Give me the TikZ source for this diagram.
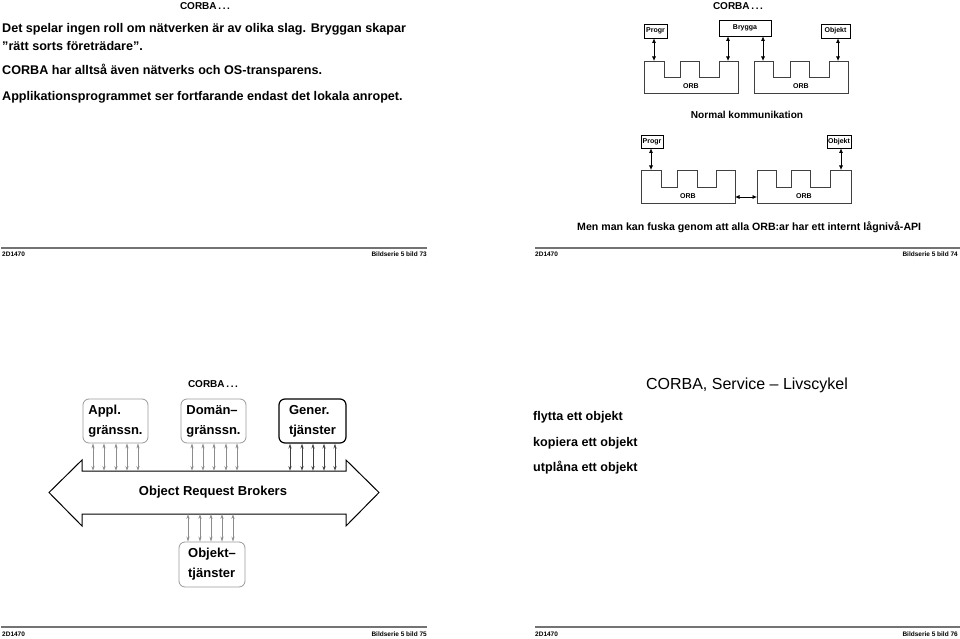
\documentclass[tikz,border=0pt]{standalone}
\usepackage{fontspec}
\setmainfont{Liberation Sans}
\usetikzlibrary{arrows.meta}
\begin{document}
\begin{tikzpicture}[x=1pt,y=-1pt,
  slidetitle/.style={font=\fontsize{10}{12}\selectfont\bfseries, inner sep=0},
  bodytext/.style={font=\fontsize{12.6}{15}\selectfont\bfseries, anchor=west, inner sep=0},
  foottext/.style={font=\fontsize{6.5}{8}\selectfont\bfseries, inner sep=0},
  footline/.style={draw=black!55, line width=1.2pt},
  smallbox/.style={draw, line width=0.7pt, font=\fontsize{7}{8}\selectfont\bfseries, inner sep=0},
  orbline/.style={draw=black!75, line width=0.7pt},
  orblabel/.style={font=\fontsize{7}{8}\selectfont\bfseries, inner sep=0},
  darr/.style={{Latex[length=4.5pt,width=4pt]}-{Latex[length=4.5pt,width=4pt]}, line width=0.7pt},
  rbox/.style={rounded corners=6pt, line width=0.8pt, align=left, inner sep=0,
     font=\fontsize{13}{20}\selectfont\bfseries},
  thinarr/.style={{Stealth[length=5pt,width=3.2pt,open]}-{Stealth[length=5pt,width=3.2pt,open]}, line width=0.5pt},
]
\useasboundingbox (0,0) rectangle (960,639);

% ================= Slide 73 (top left) =================
\node[slidetitle] (t73) at (205,6) {CORBA\,.\,.\,.};
\node[bodytext] (l1) at (2,29) {Det spelar ingen roll om nätverken är av olika slag. Bryggan skapar};
\node[bodytext] (l2) at (2,46) {"rätt sorts företrädare".};
\node[bodytext] (l3) at (2,71) {CORBA har alltså även nätverks och OS-transparens.};
\node[bodytext] (l4) at (2,97) {Applikationsprogrammet ser fortfarande endast det lokala anropet.};

% ================= Slide 74 (top right) =================
\node[slidetitle] (t74) at (738,6) {CORBA\,.\,.\,.};

% upper diagram
\node[smallbox, minimum width=23pt, minimum height=14pt] (progr1) at (655.5,31) {Progr};
\node[smallbox, minimum width=52pt, minimum height=16pt] (brygga) at (745,28) {Brygga};
\node[smallbox, minimum width=29pt, minimum height=14pt] (objekt1) at (835.5,31) {Objekt};
\draw[orbline] (644,61) -- (664,61) -- (664,77) -- (680,77) -- (680,61) -- (699,61) -- (699,77)
   -- (719,77) -- (719,61) -- (738,61) -- (738,93) -- (644,93) -- cycle;
\draw[orbline] (754,61) -- (773,61) -- (773,77) -- (790,77) -- (790,61) -- (809,61) -- (809,77)
   -- (829,77) -- (829,61) -- (848,61) -- (848,93) -- (754,93) -- cycle;
\node[orblabel] (orbA) at (691,86) {ORB};
\node[orblabel] (orbB) at (801,86) {ORB};
\coordinate (topA) at (0,61);
\draw[darr] (progr1.south -| 654,0) -- (topA -| 654,0);
\draw[darr] (brygga.south -| 728,0) -- (topA -| 728,0);
\draw[darr] (brygga.south -| 763,0) -- (topA -| 763,0);
\draw[darr] (objekt1.south -| 838,0) -- (topA -| 838,0);
\node[font=\fontsize{10.1}{12}\selectfont\bfseries, inner sep=0] (normal) at (747,115) {Normal kommunikation};

% lower diagram
\node[smallbox, minimum width=22pt, minimum height=13pt] (progr2) at (652,141.5) {Progr};
\node[smallbox, minimum width=24pt, minimum height=13pt] (objekt2) at (839,141.5) {Objekt};
\draw[orbline] (641,170) -- (661,170) -- (661,187) -- (677,187) -- (677,170) -- (697,170) -- (697,187)
   -- (716,187) -- (716,170) -- (735,170) -- (735,203) -- (641,203) -- cycle;
\draw[orbline] (757,170) -- (776,170) -- (776,187) -- (791,187) -- (791,170) -- (810,170) -- (810,187)
   -- (830,187) -- (830,170) -- (851,170) -- (851,203) -- (757,203) -- cycle;
\node[orblabel] (orbC) at (688,196) {ORB};
\node[orblabel] (orbD) at (804,196) {ORB};
\coordinate (topC) at (0,170);
\coordinate (orbCright) at (735,197);
\coordinate (orbDleft) at (757,197);
\draw[darr] (progr2.south -| 651,0) -- (topC -| 651,0);
\draw[darr] (objekt2.south -| 841,0) -- (topC -| 841,0);
\draw[darr] (orbCright) -- (orbDleft);
\node[font=\fontsize{10.6}{12}\selectfont\bfseries, inner sep=0, anchor=west] (fuska) at (577,227)
  {Men man kan fuska genom att alla ORB:ar har ett internt lågnivå-API};

% footers top
\draw[footline] (1,248) -- (427,248);
\node[foottext, anchor=west] (f73a) at (2,254.5) {2D1470};
\node[foottext, anchor=east] (f73b) at (427,254.5) {Bildserie 5 bild 73};
\draw[footline] (535,248) -- (960,248);
\node[foottext, anchor=west] (f74a) at (535,254.5) {2D1470};
\node[foottext, anchor=east] (f74b) at (958,254.5) {Bildserie 5 bild 74};

% ================= Slide 75 (bottom left) =================
\node[slidetitle] (t75) at (213,384) {CORBA\,.\,.\,.};
\node[rbox, draw=black!40, minimum width=65pt, minimum height=44pt] (appl) at (115.5,421) {Appl.\\gränssn.};
\node[rbox, draw=black!40, minimum width=65pt, minimum height=44pt] (doman) at (213.5,421) {Domän--\\gränssn.};
\node[rbox, draw=black, line width=1.2pt, minimum width=67pt, minimum height=44pt] (gener) at (312.5,421) {Gener.\\tjänster};
\node[rbox, draw=black!40, minimum width=66pt, minimum height=45pt] (objtj) at (212,564.5) {Objekt--\\tjänster};

\draw[line width=1pt] (82,471) -- (346,471) -- (346,460) -- (379,492.5) -- (346,526) -- (346,514)
  -- (82,514) -- (82,526) -- (49,492.5) -- (82,460) -- cycle;
\node[font=\fontsize{13}{15}\selectfont\bfseries, inner sep=0] (orbs) at (213,492) {Object Request Brokers};
\coordinate (bigtop) at (0,471);
\coordinate (bigbot) at (0,514);

\foreach \x in {93,104,116,127,138}
  \draw[thinarr, black!45] (appl.south -| \x,0) -- (bigtop -| \x,0);
\foreach \x in {192,203,214,226,237}
  \draw[thinarr, black!45] (doman.south -| \x,0) -- (bigtop -| \x,0);
\foreach \x in {290,302,313,324,335}
  \draw[thinarr, black!75] (gener.south -| \x,0) -- (bigtop -| \x,0);
\foreach \x in {188,200,211,222,233}
  \draw[thinarr, black!45] (bigbot -| \x,0) -- (objtj.north -| \x,0);

% footers bottom
\draw[footline] (1,627) -- (427,627);
\node[foottext, anchor=west] (f75a) at (2,634) {2D1470};
\node[foottext, anchor=east] (f75b) at (427,634) {Bildserie 5 bild 75};
\draw[footline] (535,627) -- (960,627);
\node[foottext, anchor=west] (f76a) at (535,634) {2D1470};
\node[foottext, anchor=east] (f76b) at (958,634) {Bildserie 5 bild 76};

% ================= Slide 76 (bottom right) =================
\node[font=\fontsize{16}{18}\selectfont, inner sep=0] (t76) at (747,385) {CORBA, Service -- Livscykel};
\node[bodytext] (m1) at (533,417) {flytta ett objekt};
\node[bodytext] (m2) at (533,443) {kopiera ett objekt};
\node[bodytext] (m3) at (533,468) {utplåna ett objekt};
\end{tikzpicture}
\end{document}
